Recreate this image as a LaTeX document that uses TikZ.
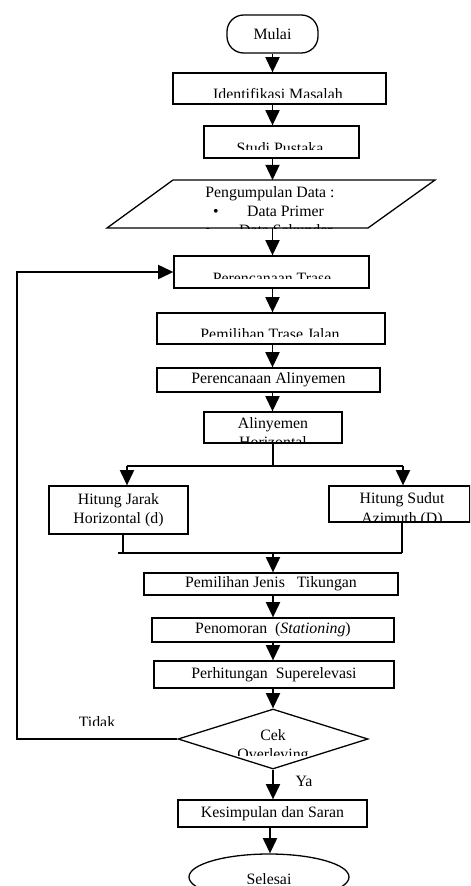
\documentclass[tikz,border=0pt]{standalone}
\usepackage{fontspec}
\setmainfont{Liberation Serif}
\usetikzlibrary{arrows.meta,shapes.geometric}

\tikzset{
  box/.style={draw,line width=1.1pt,inner sep=0pt,align=center,
    font=\fontsize{13.5}{16.2}\selectfont},
  txt/.style={inner sep=0pt,anchor=base,font=\fontsize{13.5}{16.2}\selectfont},
  lin/.style={line width=1.1pt},
  arr/.style={line width=1.5pt,-{Triangle[length=13pt,width=12pt]}}
}

% text that is cut off at a line below it
\newcommand{\cuttext}[4]{%
  \begin{scope}
    \clip (0,0) rectangle (470,#3);
    \node[txt] (#1) at (#2) {#4};
  \end{scope}}

\begin{document}
\begin{tikzpicture}[x=0.03cm,y=-0.03cm]
    \clip (0,0) rectangle (470,886);

    % Boxes
    \node[box,rounded corners=0.5cm,minimum width=2.73cm,minimum height=1.14cm] (mulai) at (272.5,34) {Mulai};
    \node[box,minimum width=6.39cm,minimum height=0.93cm] (ident) at (279.5,88.5) {};
    \node[box,minimum width=4.65cm,minimum height=0.96cm] (studi) at (281.5,142) {};
    \node[box,minimum width=5.85cm,minimum height=0.96cm] (trase) at (271.5,272) {};
    \node[box,minimum width=6.84cm,minimum height=0.93cm] (pilih) at (271,328.5) {};
    \node[box,minimum width=6.69cm,minimum height=0.72cm] (alin) at (268.5,380) {Perencanaan Alinyemen};
    \node[box,minimum width=4.14cm,minimum height=0.93cm] (alinh) at (273,427.5) {};
    \node[box,minimum width=4.17cm,minimum height=1.44cm] (jarak) at (118.5,510) {Hitung Jarak\\Horizontal (d)};
    \node[box,minimum width=4.23cm,minimum height=1.08cm] (sudut) at (399.5,504) {};
    \node[box,minimum width=7.62cm,minimum height=0.66cm] (jenis) at (271,584) {Pemilihan Jenis\ \ \ Tikungan};
    \node[box,minimum width=7.26cm,minimum height=0.72cm] (nomor) at (273,630) {Penomoran\ \ (\textit{Stationing})};
    \node[box,minimum width=7.2cm,minimum height=0.81cm] (super) at (274,674.5) {Perhitungan\ \ Superelevasi};
    \node[box,diamond,minimum width=5.7cm,minimum height=1.8cm] (cek) at (273,739) {};
    \node[box,minimum width=5.67cm,minimum height=0.81cm] (kesim) at (272.5,813.5) {Kesimpulan dan Saran};
    \node[box,ellipse,minimum width=4.8cm,minimum height=1.38cm] (selesai) at (269,877) {};

    % Data input
    \draw[lin] (173,180) -- (435,180) -- (368,228) -- (107,228) -- cycle;
    \coordinate (dtop) at (272.5,180);
    \coordinate (dbot) at (272.5,228);
    \node[txt] (data1) at (270,197) {Pengumpulan Data :};
    \node[txt,anchor=base west] (data2) at (213,216) {\textbullet\hspace{0.85cm}Data Primer};
    \begin{scope}
      \clip (173,180) -- (435,180) -- (368,228) -- (107,228) -- cycle;
      \node[txt,anchor=base west] (data3) at (205,235) {\textbullet\hspace{0.85cm}Data Sekunder};
    \end{scope}

    % Texts cut off in their boxes
    \cuttext{t-ident}{278,99}{97}{Identifikasi Masalah}
    \cuttext{t-studi}{280,153}{149}{Studi Pustaka}
    \cuttext{t-trase}{272,283}{278}{Perencanaan Trase}
    \cuttext{t-pilih}{270,339}{336}{Pemilihan Trase Jalan}
    \node[txt] (t-alinh) at (273,428) {Alinyemen};
    \cuttext{t-horz}{273,447}{442}{Horizontal}
    \node[txt] (t-sudut) at (402,503) {Hitung Sudut};
    \cuttext{t-azim}{402,523}{521.5}{Azimuth (D)}
    \node[txt] (t-cek) at (273,740) {Cek};
    \cuttext{t-over}{273,759}{755}{Overleving}
    \cuttext{t-tidak}{97,727}{725}{Tidak}
    \node[txt] (t-ya) at (304,786) {Ya};
    \cuttext{t-sel}{269,884}{883}{Selesai}

    % Main flow
    \draw[arr] (mulai.south) -- (mulai.south |- ident.north);
    \draw[arr] (ident.south -| mulai) -- (studi.north -| mulai);
    \draw[arr] (studi.south -| mulai) -- (dtop);
    \draw[arr] (dbot) -- (trase.north -| mulai);
    \draw[arr] (trase.south -| mulai) -- (pilih.north -| mulai);
    \draw[arr] (pilih.south -| mulai) -- (alin.north -| mulai);
    \draw[arr] (alin.south -| mulai) -- (alinh.north -| mulai);

    % Split into the two counts
    \coordinate (split) at (273,466);
    \coordinate (splitL) at (127,466);
    \coordinate (splitR) at (403,466);
    \draw[lin] (alinh.south) -- (split);
    \draw[lin] (splitL) -- (splitR);
    \draw[arr] (splitL) -- (splitL |- jarak.north);
    \draw[arr] (splitR) -- (splitR |- sudut.north);

    % Join again
    \coordinate (stub) at (118,553);
    \coordinate (joinL) at (123,553);
    \coordinate (joinR) at (402,553);
    \coordinate (join) at (273,553);
    \draw[lin] (jarak.south -| joinL) -- (joinL);
    \draw[lin] (sudut.south -| joinR) -- (joinR);
    \draw[lin] (stub) -- (joinR);
    \draw[arr] (join) -- (jenis.north -| join);
    \draw[arr] (jenis.south -| join) -- (nomor.north -| join);
    \draw[arr] (nomor.south -| join) -- (super.north -| join);
    \draw[arr] (super.south -| join) -- (cek.north);
    \draw[arr] (cek.south) -- (cek.south |- kesim.north);
    \draw[arr] (kesim.south -| 270,0) -- (selesai.north -| 270,0);

    % Back to the route planning
    \coordinate (back) at (17,739);
    \draw[arr] (cek.west) -- (back) |- (trase.west);
\end{tikzpicture}
\end{document}
